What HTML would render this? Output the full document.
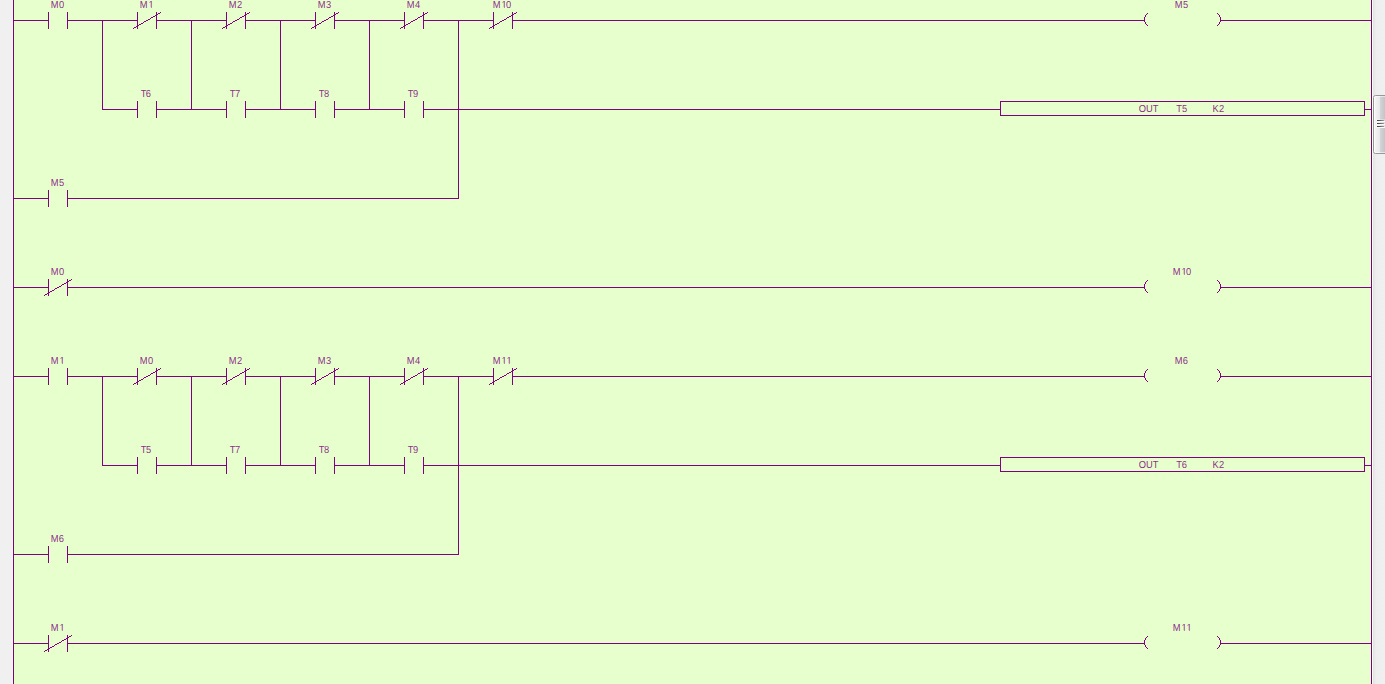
<!DOCTYPE html>
<html><head><meta charset="utf-8"><title>Ladder</title>
<style>
html,body{margin:0;padding:0;background:#E6FFCC;overflow:hidden}
body{width:1385px;height:684px;position:relative;font-family:"Liberation Sans",sans-serif}
svg{position:absolute;left:0;top:0;display:block}
svg rect{fill:#800080;shape-rendering:crispEdges}
svg rect.s{shape-rendering:auto;fill-opacity:0.62}
svg .d{stroke:#800080;stroke-width:1;shape-rendering:crispEdges}
svg .a{stroke:#800080;stroke-width:1.2;fill:none}
svg text{fill:#800080;fill-opacity:0.86;font-family:"Liberation Sans",sans-serif;font-size:10.17px;text-rendering:geometricPrecision;text-anchor:start}
</style></head><body>
<svg width="1385" height="684" viewBox="0 0 1385 684">
<defs>
<linearGradient id="trk" x1="0" x2="1" y1="0" y2="0"><stop offset="0" stop-color="#E2E2E2"/><stop offset="0.25" stop-color="#EEEEEE"/><stop offset="1" stop-color="#F0F0F0"/></linearGradient>
<linearGradient id="thm" x1="0" x2="1" y1="0" y2="0"><stop offset="0" stop-color="#F8F8F8"/><stop offset="0.40" stop-color="#E7E7E9"/><stop offset="0.41" stop-color="#D4D4D8"/><stop offset="0.75" stop-color="#C2C2C7"/><stop offset="1" stop-color="#C2C2C7"/></linearGradient>
<linearGradient id="grp" gradientUnits="userSpaceOnUse" x1="1377" x2="1384" y1="0" y2="0"><stop offset="0" stop-color="#383838"/><stop offset="0.4" stop-color="#5A5A5A"/><stop offset="1" stop-color="#A0A0A0"/></linearGradient>
</defs>
<rect x="0" y="0" width="1385" height="684" style="fill:#E6FFCC"/>
<rect x="0" y="0" width="12" height="684" style="fill:#F0F0F0"/>
<rect x="12" y="0" width="1" height="684" style="fill:#F8FCF4"/>
<rect x="1372" y="0" width="1" height="684" style="fill:#F8FCF4"/>
<rect x="1373" y="0" width="12" height="684" style="fill:url(#trk)"/>
<rect x="1373.5" y="95.5" width="16" height="58" rx="2" ry="2" style="fill:url(#thm);stroke:#989898;stroke-width:1;shape-rendering:auto"/>
<rect x="1374.5" y="96.5" width="14" height="56" rx="1" ry="1" style="fill:none;stroke:#FFFFFF;stroke-opacity:0.55;stroke-width:1;shape-rendering:auto"/>
<g><rect x="1376" y="119" width="9" height="3" style="fill:#FFFFFF;fill-opacity:0.3"/><rect x="1376" y="122" width="9" height="3" style="fill:#FFFFFF;fill-opacity:0.45"/><rect x="1376" y="125" width="9" height="3" style="fill:#FFFFFF;fill-opacity:0.45"/><rect x="1377" y="120" width="7" height="1" style="fill:url(#grp)"/><rect x="1377" y="121" width="8" height="1" style="fill:#FAFAFA"/><rect x="1377" y="123" width="7" height="1" style="fill:url(#grp)"/><rect x="1377" y="124" width="8" height="1" style="fill:#FAFAFA"/><rect x="1377" y="126" width="7" height="1" style="fill:url(#grp)"/><rect x="1377" y="127" width="8" height="1" style="fill:#FAFAFA"/></g>
<rect x="13" y="0" width="1" height="684"/>
<rect x="1371" y="0" width="1" height="684"/>
<rect x="13" y="20" width="36" height="1"/>
<rect x="67" y="20" width="36" height="1"/>
<rect x="48" y="12" width="1" height="17"/>
<rect x="67" y="12" width="1" height="17"/>
<rect x="102" y="20" width="36" height="1"/>
<rect x="156" y="20" width="36" height="1"/>
<rect x="137" y="12" width="1" height="17"/>
<rect x="156" y="12" width="1" height="17"/>
<rect x="133" y="28" width="1" height="1"/>
<rect x="134" y="27" width="2" height="1"/>
<rect x="136" y="26" width="2" height="1"/>
<rect x="138" y="25" width="1" height="1"/>
<rect x="139" y="24" width="2" height="1"/>
<rect x="141" y="23" width="2" height="1"/>
<rect x="143" y="22" width="1" height="1"/>
<rect x="144" y="21" width="2" height="1"/>
<rect x="146" y="20" width="2" height="1"/>
<rect x="148" y="19" width="2" height="1"/>
<rect x="150" y="18" width="1" height="1"/>
<rect x="151" y="17" width="2" height="1"/>
<rect x="153" y="16" width="2" height="1"/>
<rect x="155" y="15" width="1" height="1"/>
<rect x="156" y="14" width="2" height="1"/>
<rect x="158" y="13" width="2" height="1"/>
<rect x="160" y="12" width="1" height="1"/>
<rect x="191" y="20" width="36" height="1"/>
<rect x="245" y="20" width="36" height="1"/>
<rect x="226" y="12" width="1" height="17"/>
<rect x="245" y="12" width="1" height="17"/>
<rect x="222" y="28" width="1" height="1"/>
<rect x="223" y="27" width="2" height="1"/>
<rect x="225" y="26" width="2" height="1"/>
<rect x="227" y="25" width="1" height="1"/>
<rect x="228" y="24" width="2" height="1"/>
<rect x="230" y="23" width="2" height="1"/>
<rect x="232" y="22" width="1" height="1"/>
<rect x="233" y="21" width="2" height="1"/>
<rect x="235" y="20" width="2" height="1"/>
<rect x="237" y="19" width="2" height="1"/>
<rect x="239" y="18" width="1" height="1"/>
<rect x="240" y="17" width="2" height="1"/>
<rect x="242" y="16" width="2" height="1"/>
<rect x="244" y="15" width="1" height="1"/>
<rect x="245" y="14" width="2" height="1"/>
<rect x="247" y="13" width="2" height="1"/>
<rect x="249" y="12" width="1" height="1"/>
<rect x="280" y="20" width="36" height="1"/>
<rect x="334" y="20" width="36" height="1"/>
<rect x="315" y="12" width="1" height="17"/>
<rect x="334" y="12" width="1" height="17"/>
<rect x="311" y="28" width="1" height="1"/>
<rect x="312" y="27" width="2" height="1"/>
<rect x="314" y="26" width="2" height="1"/>
<rect x="316" y="25" width="1" height="1"/>
<rect x="317" y="24" width="2" height="1"/>
<rect x="319" y="23" width="2" height="1"/>
<rect x="321" y="22" width="1" height="1"/>
<rect x="322" y="21" width="2" height="1"/>
<rect x="324" y="20" width="2" height="1"/>
<rect x="326" y="19" width="2" height="1"/>
<rect x="328" y="18" width="1" height="1"/>
<rect x="329" y="17" width="2" height="1"/>
<rect x="331" y="16" width="2" height="1"/>
<rect x="333" y="15" width="1" height="1"/>
<rect x="334" y="14" width="2" height="1"/>
<rect x="336" y="13" width="2" height="1"/>
<rect x="338" y="12" width="1" height="1"/>
<rect x="369" y="20" width="36" height="1"/>
<rect x="423" y="20" width="36" height="1"/>
<rect x="404" y="12" width="1" height="17"/>
<rect x="423" y="12" width="1" height="17"/>
<rect x="400" y="28" width="1" height="1"/>
<rect x="401" y="27" width="2" height="1"/>
<rect x="403" y="26" width="2" height="1"/>
<rect x="405" y="25" width="1" height="1"/>
<rect x="406" y="24" width="2" height="1"/>
<rect x="408" y="23" width="2" height="1"/>
<rect x="410" y="22" width="1" height="1"/>
<rect x="411" y="21" width="2" height="1"/>
<rect x="413" y="20" width="2" height="1"/>
<rect x="415" y="19" width="2" height="1"/>
<rect x="417" y="18" width="1" height="1"/>
<rect x="418" y="17" width="2" height="1"/>
<rect x="420" y="16" width="2" height="1"/>
<rect x="422" y="15" width="1" height="1"/>
<rect x="423" y="14" width="2" height="1"/>
<rect x="425" y="13" width="2" height="1"/>
<rect x="427" y="12" width="1" height="1"/>
<rect x="458" y="20" width="36" height="1"/>
<rect x="512" y="20" width="36" height="1"/>
<rect x="493" y="12" width="1" height="17"/>
<rect x="512" y="12" width="1" height="17"/>
<rect x="489" y="28" width="1" height="1"/>
<rect x="490" y="27" width="2" height="1"/>
<rect x="492" y="26" width="2" height="1"/>
<rect x="494" y="25" width="1" height="1"/>
<rect x="495" y="24" width="2" height="1"/>
<rect x="497" y="23" width="2" height="1"/>
<rect x="499" y="22" width="1" height="1"/>
<rect x="500" y="21" width="2" height="1"/>
<rect x="502" y="20" width="2" height="1"/>
<rect x="504" y="19" width="2" height="1"/>
<rect x="506" y="18" width="1" height="1"/>
<rect x="507" y="17" width="2" height="1"/>
<rect x="509" y="16" width="2" height="1"/>
<rect x="511" y="15" width="1" height="1"/>
<rect x="512" y="14" width="2" height="1"/>
<rect x="514" y="13" width="2" height="1"/>
<rect x="516" y="12" width="1" height="1"/>
<rect x="547" y="20" width="598" height="1"/>
<rect x="1220" y="20" width="152" height="1"/>
<rect x="1147" y="13" width="1" height="1"/>
<rect x="1217" y="13" width="1" height="1"/>
<rect x="1147" y="25" width="1" height="1"/>
<rect x="1217" y="25" width="1" height="1"/>
<rect x="1146" y="14" width="1" height="1"/>
<rect x="1218" y="14" width="1" height="1"/>
<rect x="1146" y="24" width="1" height="1"/>
<rect x="1218" y="24" width="1" height="1"/>
<rect x="1145" y="15" width="1" height="2"/>
<rect x="1219" y="15" width="1" height="2"/>
<rect x="1145" y="22" width="1" height="2"/>
<rect x="1219" y="22" width="1" height="2"/>
<rect x="1144" y="17" width="1" height="5"/>
<rect x="1220" y="17" width="1" height="5"/>
<rect x="102" y="109" width="36" height="1"/>
<rect x="156" y="109" width="36" height="1"/>
<rect x="137" y="101" width="1" height="17"/>
<rect x="156" y="101" width="1" height="17"/>
<rect x="191" y="109" width="36" height="1"/>
<rect x="245" y="109" width="36" height="1"/>
<rect x="226" y="101" width="1" height="17"/>
<rect x="245" y="101" width="1" height="17"/>
<rect x="280" y="109" width="36" height="1"/>
<rect x="334" y="109" width="36" height="1"/>
<rect x="315" y="101" width="1" height="17"/>
<rect x="334" y="101" width="1" height="17"/>
<rect x="369" y="109" width="36" height="1"/>
<rect x="423" y="109" width="36" height="1"/>
<rect x="404" y="101" width="1" height="17"/>
<rect x="423" y="101" width="1" height="17"/>
<rect x="458" y="109" width="543" height="1"/>
<rect x="1000" y="101" width="365" height="1"/>
<rect x="1000" y="115" width="365" height="1"/>
<rect x="1000" y="101" width="1" height="15"/>
<rect x="1364" y="101" width="1" height="15"/>
<rect x="1364" y="109" width="8" height="1"/>
<rect x="102" y="20" width="1" height="90"/>
<rect x="191" y="20" width="1" height="90"/>
<rect x="280" y="20" width="1" height="90"/>
<rect x="369" y="20" width="1" height="90"/>
<rect x="458" y="20" width="1" height="179"/>
<rect x="13" y="198" width="36" height="1"/>
<rect x="67" y="198" width="36" height="1"/>
<rect x="48" y="190" width="1" height="17"/>
<rect x="67" y="190" width="1" height="17"/>
<rect x="102" y="198" width="357" height="1"/>
<rect x="13" y="287" width="36" height="1"/>
<rect x="67" y="287" width="36" height="1"/>
<rect x="48" y="279" width="1" height="17"/>
<rect x="67" y="279" width="1" height="17"/>
<rect x="44" y="295" width="1" height="1"/>
<rect x="45" y="294" width="2" height="1"/>
<rect x="47" y="293" width="2" height="1"/>
<rect x="49" y="292" width="1" height="1"/>
<rect x="50" y="291" width="2" height="1"/>
<rect x="52" y="290" width="2" height="1"/>
<rect x="54" y="289" width="1" height="1"/>
<rect x="55" y="288" width="2" height="1"/>
<rect x="57" y="287" width="2" height="1"/>
<rect x="59" y="286" width="2" height="1"/>
<rect x="61" y="285" width="1" height="1"/>
<rect x="62" y="284" width="2" height="1"/>
<rect x="64" y="283" width="2" height="1"/>
<rect x="66" y="282" width="1" height="1"/>
<rect x="67" y="281" width="2" height="1"/>
<rect x="69" y="280" width="2" height="1"/>
<rect x="71" y="279" width="1" height="1"/>
<rect x="102" y="287" width="1043" height="1"/>
<rect x="1220" y="287" width="152" height="1"/>
<rect x="1147" y="280" width="1" height="1"/>
<rect x="1217" y="280" width="1" height="1"/>
<rect x="1147" y="292" width="1" height="1"/>
<rect x="1217" y="292" width="1" height="1"/>
<rect x="1146" y="281" width="1" height="1"/>
<rect x="1218" y="281" width="1" height="1"/>
<rect x="1146" y="291" width="1" height="1"/>
<rect x="1218" y="291" width="1" height="1"/>
<rect x="1145" y="282" width="1" height="2"/>
<rect x="1219" y="282" width="1" height="2"/>
<rect x="1145" y="289" width="1" height="2"/>
<rect x="1219" y="289" width="1" height="2"/>
<rect x="1144" y="284" width="1" height="5"/>
<rect x="1220" y="284" width="1" height="5"/>
<rect x="13" y="376" width="36" height="1"/>
<rect x="67" y="376" width="36" height="1"/>
<rect x="48" y="368" width="1" height="17"/>
<rect x="67" y="368" width="1" height="17"/>
<rect x="102" y="376" width="36" height="1"/>
<rect x="156" y="376" width="36" height="1"/>
<rect x="137" y="368" width="1" height="17"/>
<rect x="156" y="368" width="1" height="17"/>
<rect x="133" y="384" width="1" height="1"/>
<rect x="134" y="383" width="2" height="1"/>
<rect x="136" y="382" width="2" height="1"/>
<rect x="138" y="381" width="1" height="1"/>
<rect x="139" y="380" width="2" height="1"/>
<rect x="141" y="379" width="2" height="1"/>
<rect x="143" y="378" width="1" height="1"/>
<rect x="144" y="377" width="2" height="1"/>
<rect x="146" y="376" width="2" height="1"/>
<rect x="148" y="375" width="2" height="1"/>
<rect x="150" y="374" width="1" height="1"/>
<rect x="151" y="373" width="2" height="1"/>
<rect x="153" y="372" width="2" height="1"/>
<rect x="155" y="371" width="1" height="1"/>
<rect x="156" y="370" width="2" height="1"/>
<rect x="158" y="369" width="2" height="1"/>
<rect x="160" y="368" width="1" height="1"/>
<rect x="191" y="376" width="36" height="1"/>
<rect x="245" y="376" width="36" height="1"/>
<rect x="226" y="368" width="1" height="17"/>
<rect x="245" y="368" width="1" height="17"/>
<rect x="222" y="384" width="1" height="1"/>
<rect x="223" y="383" width="2" height="1"/>
<rect x="225" y="382" width="2" height="1"/>
<rect x="227" y="381" width="1" height="1"/>
<rect x="228" y="380" width="2" height="1"/>
<rect x="230" y="379" width="2" height="1"/>
<rect x="232" y="378" width="1" height="1"/>
<rect x="233" y="377" width="2" height="1"/>
<rect x="235" y="376" width="2" height="1"/>
<rect x="237" y="375" width="2" height="1"/>
<rect x="239" y="374" width="1" height="1"/>
<rect x="240" y="373" width="2" height="1"/>
<rect x="242" y="372" width="2" height="1"/>
<rect x="244" y="371" width="1" height="1"/>
<rect x="245" y="370" width="2" height="1"/>
<rect x="247" y="369" width="2" height="1"/>
<rect x="249" y="368" width="1" height="1"/>
<rect x="280" y="376" width="36" height="1"/>
<rect x="334" y="376" width="36" height="1"/>
<rect x="315" y="368" width="1" height="17"/>
<rect x="334" y="368" width="1" height="17"/>
<rect x="311" y="384" width="1" height="1"/>
<rect x="312" y="383" width="2" height="1"/>
<rect x="314" y="382" width="2" height="1"/>
<rect x="316" y="381" width="1" height="1"/>
<rect x="317" y="380" width="2" height="1"/>
<rect x="319" y="379" width="2" height="1"/>
<rect x="321" y="378" width="1" height="1"/>
<rect x="322" y="377" width="2" height="1"/>
<rect x="324" y="376" width="2" height="1"/>
<rect x="326" y="375" width="2" height="1"/>
<rect x="328" y="374" width="1" height="1"/>
<rect x="329" y="373" width="2" height="1"/>
<rect x="331" y="372" width="2" height="1"/>
<rect x="333" y="371" width="1" height="1"/>
<rect x="334" y="370" width="2" height="1"/>
<rect x="336" y="369" width="2" height="1"/>
<rect x="338" y="368" width="1" height="1"/>
<rect x="369" y="376" width="36" height="1"/>
<rect x="423" y="376" width="36" height="1"/>
<rect x="404" y="368" width="1" height="17"/>
<rect x="423" y="368" width="1" height="17"/>
<rect x="400" y="384" width="1" height="1"/>
<rect x="401" y="383" width="2" height="1"/>
<rect x="403" y="382" width="2" height="1"/>
<rect x="405" y="381" width="1" height="1"/>
<rect x="406" y="380" width="2" height="1"/>
<rect x="408" y="379" width="2" height="1"/>
<rect x="410" y="378" width="1" height="1"/>
<rect x="411" y="377" width="2" height="1"/>
<rect x="413" y="376" width="2" height="1"/>
<rect x="415" y="375" width="2" height="1"/>
<rect x="417" y="374" width="1" height="1"/>
<rect x="418" y="373" width="2" height="1"/>
<rect x="420" y="372" width="2" height="1"/>
<rect x="422" y="371" width="1" height="1"/>
<rect x="423" y="370" width="2" height="1"/>
<rect x="425" y="369" width="2" height="1"/>
<rect x="427" y="368" width="1" height="1"/>
<rect x="458" y="376" width="36" height="1"/>
<rect x="512" y="376" width="36" height="1"/>
<rect x="493" y="368" width="1" height="17"/>
<rect x="512" y="368" width="1" height="17"/>
<rect x="489" y="384" width="1" height="1"/>
<rect x="490" y="383" width="2" height="1"/>
<rect x="492" y="382" width="2" height="1"/>
<rect x="494" y="381" width="1" height="1"/>
<rect x="495" y="380" width="2" height="1"/>
<rect x="497" y="379" width="2" height="1"/>
<rect x="499" y="378" width="1" height="1"/>
<rect x="500" y="377" width="2" height="1"/>
<rect x="502" y="376" width="2" height="1"/>
<rect x="504" y="375" width="2" height="1"/>
<rect x="506" y="374" width="1" height="1"/>
<rect x="507" y="373" width="2" height="1"/>
<rect x="509" y="372" width="2" height="1"/>
<rect x="511" y="371" width="1" height="1"/>
<rect x="512" y="370" width="2" height="1"/>
<rect x="514" y="369" width="2" height="1"/>
<rect x="516" y="368" width="1" height="1"/>
<rect x="547" y="376" width="598" height="1"/>
<rect x="1220" y="376" width="152" height="1"/>
<rect x="1147" y="369" width="1" height="1"/>
<rect x="1217" y="369" width="1" height="1"/>
<rect x="1147" y="381" width="1" height="1"/>
<rect x="1217" y="381" width="1" height="1"/>
<rect x="1146" y="370" width="1" height="1"/>
<rect x="1218" y="370" width="1" height="1"/>
<rect x="1146" y="380" width="1" height="1"/>
<rect x="1218" y="380" width="1" height="1"/>
<rect x="1145" y="371" width="1" height="2"/>
<rect x="1219" y="371" width="1" height="2"/>
<rect x="1145" y="378" width="1" height="2"/>
<rect x="1219" y="378" width="1" height="2"/>
<rect x="1144" y="373" width="1" height="5"/>
<rect x="1220" y="373" width="1" height="5"/>
<rect x="102" y="465" width="36" height="1"/>
<rect x="156" y="465" width="36" height="1"/>
<rect x="137" y="457" width="1" height="17"/>
<rect x="156" y="457" width="1" height="17"/>
<rect x="191" y="465" width="36" height="1"/>
<rect x="245" y="465" width="36" height="1"/>
<rect x="226" y="457" width="1" height="17"/>
<rect x="245" y="457" width="1" height="17"/>
<rect x="280" y="465" width="36" height="1"/>
<rect x="334" y="465" width="36" height="1"/>
<rect x="315" y="457" width="1" height="17"/>
<rect x="334" y="457" width="1" height="17"/>
<rect x="369" y="465" width="36" height="1"/>
<rect x="423" y="465" width="36" height="1"/>
<rect x="404" y="457" width="1" height="17"/>
<rect x="423" y="457" width="1" height="17"/>
<rect x="458" y="465" width="543" height="1"/>
<rect x="1000" y="457" width="365" height="1"/>
<rect x="1000" y="471" width="365" height="1"/>
<rect x="1000" y="457" width="1" height="15"/>
<rect x="1364" y="457" width="1" height="15"/>
<rect x="1364" y="465" width="8" height="1"/>
<rect x="102" y="376" width="1" height="90"/>
<rect x="191" y="376" width="1" height="90"/>
<rect x="280" y="376" width="1" height="90"/>
<rect x="369" y="376" width="1" height="90"/>
<rect x="458" y="376" width="1" height="179"/>
<rect x="13" y="554" width="36" height="1"/>
<rect x="67" y="554" width="36" height="1"/>
<rect x="48" y="546" width="1" height="17"/>
<rect x="67" y="546" width="1" height="17"/>
<rect x="102" y="554" width="357" height="1"/>
<rect x="13" y="643" width="36" height="1"/>
<rect x="67" y="643" width="36" height="1"/>
<rect x="48" y="635" width="1" height="17"/>
<rect x="67" y="635" width="1" height="17"/>
<rect x="44" y="651" width="1" height="1"/>
<rect x="45" y="650" width="2" height="1"/>
<rect x="47" y="649" width="2" height="1"/>
<rect x="49" y="648" width="1" height="1"/>
<rect x="50" y="647" width="2" height="1"/>
<rect x="52" y="646" width="2" height="1"/>
<rect x="54" y="645" width="1" height="1"/>
<rect x="55" y="644" width="2" height="1"/>
<rect x="57" y="643" width="2" height="1"/>
<rect x="59" y="642" width="2" height="1"/>
<rect x="61" y="641" width="1" height="1"/>
<rect x="62" y="640" width="2" height="1"/>
<rect x="64" y="639" width="2" height="1"/>
<rect x="66" y="638" width="1" height="1"/>
<rect x="67" y="637" width="2" height="1"/>
<rect x="69" y="636" width="2" height="1"/>
<rect x="71" y="635" width="1" height="1"/>
<rect x="102" y="643" width="1043" height="1"/>
<rect x="1220" y="643" width="152" height="1"/>
<rect x="1147" y="636" width="1" height="1"/>
<rect x="1217" y="636" width="1" height="1"/>
<rect x="1147" y="648" width="1" height="1"/>
<rect x="1217" y="648" width="1" height="1"/>
<rect x="1146" y="637" width="1" height="1"/>
<rect x="1218" y="637" width="1" height="1"/>
<rect x="1146" y="647" width="1" height="1"/>
<rect x="1218" y="647" width="1" height="1"/>
<rect x="1145" y="638" width="1" height="2"/>
<rect x="1219" y="638" width="1" height="2"/>
<rect x="1145" y="645" width="1" height="2"/>
<rect x="1219" y="645" width="1" height="2"/>
<rect x="1144" y="640" width="1" height="5"/>
<rect x="1220" y="640" width="1" height="5"/>
<text transform="translate(51,8) scale(0.92,1)" x="-0.160 8.585">M0</text>
<text transform="translate(140,8) scale(0.92,1)" x="-0.160 9.293">M1</text>
<rect x="148" y="7" width="6" height="1" style="fill:#E6FFCC"/>
<rect class="s" x="150.903" y="7" width="0.827" height="1"/>
<text transform="translate(229,8) scale(0.92,1)" x="-0.160 8.585">M2</text>
<text transform="translate(318,8) scale(0.92,1)" x="-0.160 8.615">M3</text>
<text transform="translate(407,8) scale(0.92,1)" x="-0.160 8.617">M4</text>
<text transform="translate(493,8) scale(0.92,1)" x="-0.160 9.293 14.020">M10</text>
<rect x="501" y="7" width="6" height="1" style="fill:#E6FFCC"/>
<rect class="s" x="503.903" y="7" width="0.827" height="1"/>
<text transform="translate(1175,8) scale(0.92,1)" x="-0.160 8.595">M5</text>
<text transform="translate(141,97) scale(0.92,1)" x="-0.386 5.289">T6</text>
<text transform="translate(230,97) scale(0.92,1)" x="-0.386 5.319">T7</text>
<text transform="translate(319,97) scale(0.92,1)" x="-0.386 5.324">T8</text>
<text transform="translate(408,97) scale(0.92,1)" x="-0.386 5.327">T9</text>
<text transform="translate(1139,112) scale(0.92,1)" x="-0.148 7.741 14.831">OUT</text>
<text transform="translate(1176,112) scale(0.92,1)" x="0.157 6.421">T5</text>
<text transform="translate(1213,112) scale(0.92,1)" x="-0.491 6.411">K2</text>
<text transform="translate(51,186) scale(0.92,1)" x="-0.160 8.595">M5</text>
<text transform="translate(51,275) scale(0.92,1)" x="-0.160 8.585">M0</text>
<text transform="translate(1173,275) scale(0.92,1)" x="-0.160 9.293 14.020">M10</text>
<rect x="1181" y="274" width="6" height="1" style="fill:#E6FFCC"/>
<rect class="s" x="1183.903" y="274" width="0.827" height="1"/>
<text transform="translate(51,364) scale(0.92,1)" x="-0.160 9.293">M1</text>
<rect x="59" y="363" width="6" height="1" style="fill:#E6FFCC"/>
<rect class="s" x="61.903" y="363" width="0.827" height="1"/>
<text transform="translate(140,364) scale(0.92,1)" x="-0.160 8.585">M0</text>
<text transform="translate(229,364) scale(0.92,1)" x="-0.160 8.585">M2</text>
<text transform="translate(318,364) scale(0.92,1)" x="-0.160 8.615">M3</text>
<text transform="translate(407,364) scale(0.92,1)" x="-0.160 8.617">M4</text>
<text transform="translate(493,364) scale(0.92,1)" x="-0.160 9.293 14.728">M11</text>
<rect x="501" y="363" width="6" height="1" style="fill:#E6FFCC"/>
<rect class="s" x="503.903" y="363" width="0.827" height="1"/>
<rect x="506" y="363" width="6" height="1" style="fill:#E6FFCC"/>
<rect class="s" x="508.903" y="363" width="0.827" height="1"/>
<text transform="translate(1175,364) scale(0.92,1)" x="-0.160 8.550">M6</text>
<text transform="translate(141,453) scale(0.92,1)" x="-0.386 5.334">T5</text>
<text transform="translate(230,453) scale(0.92,1)" x="-0.386 5.319">T7</text>
<text transform="translate(319,453) scale(0.92,1)" x="-0.386 5.324">T8</text>
<text transform="translate(408,453) scale(0.92,1)" x="-0.386 5.327">T9</text>
<text transform="translate(1139,468) scale(0.92,1)" x="-0.148 7.741 14.831">OUT</text>
<text transform="translate(1176,468) scale(0.92,1)" x="0.157 6.376">T6</text>
<text transform="translate(1213,468) scale(0.92,1)" x="-0.491 6.411">K2</text>
<text transform="translate(51,542) scale(0.92,1)" x="-0.160 8.550">M6</text>
<text transform="translate(51,631) scale(0.92,1)" x="-0.160 9.293">M1</text>
<rect x="59" y="630" width="6" height="1" style="fill:#E6FFCC"/>
<rect class="s" x="61.903" y="630" width="0.827" height="1"/>
<text transform="translate(1173,631) scale(0.92,1)" x="-0.160 9.293 14.728">M11</text>
<rect x="1181" y="630" width="6" height="1" style="fill:#E6FFCC"/>
<rect class="s" x="1183.903" y="630" width="0.827" height="1"/>
<rect x="1186" y="630" width="6" height="1" style="fill:#E6FFCC"/>
<rect class="s" x="1188.903" y="630" width="0.827" height="1"/>
</svg>
</body></html>
